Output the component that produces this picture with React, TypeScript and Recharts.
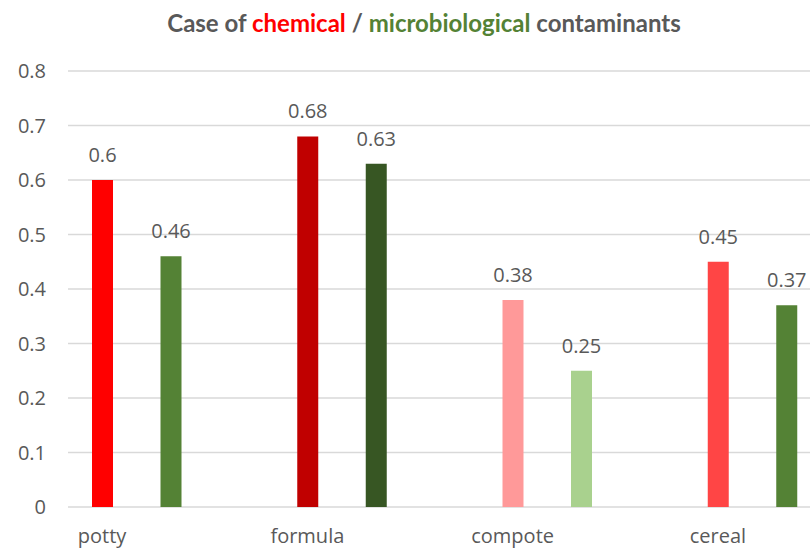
import { Bar, BarChart, CartesianGrid, Cell, LabelList, XAxis, YAxis } from "recharts";

const categories = ["potty", "formula", "compote", "cereal"];
const chemical = [0.6, 0.68, 0.38, 0.45];
const microbiological = [0.46, 0.63, 0.25, 0.37];
const chemicalColors = ["#FF0000", "#C00000", "#FF9999", "#FF4545"];
const microColors = ["#548235", "#375623", "#A9D18E", "#548235"];
const yTicks = [0, 0.1, 0.2, 0.3, 0.4, 0.5, 0.6, 0.7, 0.8];

// third empty slot per category, so the pair sits left of the band centre like the source
const data = categories.map((name, i) => ({
  name,
  chemical: chemical[i],
  microbiological: microbiological[i],
  blank: null
}));

const font = "'Open Sans', sans-serif";
const textGray = "#595959";
const BAR = 21;
const GAP = 47.5;

function CategoryTick(props: any) {
  const { x, y, payload } = props;
  return (
    <text x={x - (BAR + GAP)} y={y} dy="0.71em" textAnchor="middle" fill={textGray} fontSize={20} fontFamily={font}>
      {payload.value}
    </text>
  );
}

export default function App() {
  return (
    <div style={{ position: "absolute", left: 0, top: 0, width: 810, height: 550, overflow: "hidden", background: "#fff" }}>
      <BarChart width={889} height={550} data={data} margin={{ top: 71, right: 0, bottom: 0, left: 0 }} barSize={BAR} barGap={GAP}>
        <CartesianGrid vertical={false} stroke="#D9D9D9" strokeWidth={1.3} />
        <XAxis dataKey="name" height={43} axisLine={false} tickLine={false} tickSize={0} tickMargin={22} tick={<CategoryTick />} interval={0} />
        <YAxis
          domain={[0, 0.8]}
          ticks={yTicks}
          width={68}
          axisLine={false}
          tickLine={false}
          tickSize={0}
          tickMargin={22}
          tick={{ fill: textGray, fontSize: 20, fontFamily: font }}
        />
        <Bar dataKey="chemical" isAnimationActive={false}>
          {data.map((d, i) => (
            <Cell key={d.name} fill={chemicalColors[i]} />
          ))}
          <LabelList dataKey="chemical" position="top" offset={18} fill={textGray} fontSize={20} fontFamily={font} />
        </Bar>
        <Bar dataKey="microbiological" isAnimationActive={false}>
          {data.map((d, i) => (
            <Cell key={d.name} fill={microColors[i]} />
          ))}
          <LabelList dataKey="microbiological" position="top" offset={18} fill={textGray} fontSize={20} fontFamily={font} />
        </Bar>
        <Bar dataKey="blank" isAnimationActive={false} fill="none" />
      </BarChart>
      <svg width={810} height={50} style={{ position: "absolute", left: 0, top: 0 }}>
        <text x={424} y={31.5} textAnchor="middle" fontFamily="Lato, sans-serif" fontWeight={700} fontSize={24} fill={textGray}>
          Case of <tspan fill="#FF0000">chemical</tspan> / <tspan fill="#548235">microbiological</tspan> contaminants
        </text>
      </svg>
    </div>
  );
}
